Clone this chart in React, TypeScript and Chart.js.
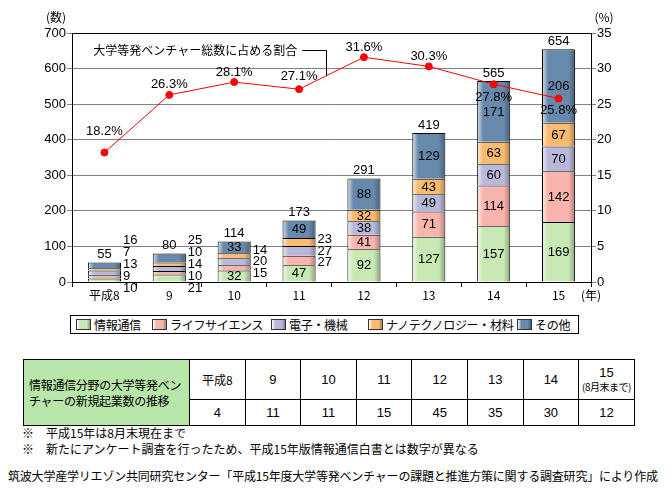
import React, { useEffect, useRef } from 'react';
import { Chart, registerables } from 'chart.js';
Chart.register(...registerables);

// ---- data ----
const years = ['平成8', '9', '10', '11', '12', '13', '14', '15'];
const ict = [10, 21, 32, 47, 92, 127, 157, 169];
const life = [9, 10, 15, 27, 41, 71, 114, 142];
const elec = [13, 14, 20, 27, 38, 49, 60, 70];
const nano = [7, 10, 14, 23, 32, 43, 63, 67];
const other = [16, 25, 33, 49, 88, 129, 171, 206];
const totals = [55, 80, 114, 173, 291, 419, 565, 654];
const share = [18.2, 26.3, 28.1, 27.1, 31.6, 30.3, 27.8, 25.8];
const seriesNames = ['情報通信', 'ライフサイエンス', '電子・機械', 'ナノテクノロジー・材料', 'その他'];
const tableYears = ['平成8', '9', '10', '11', '12', '13', '14', '15'];
const ictStartups = [4, 11, 11, 15, 45, 35, 30, 12];

// ---- styles ----
const JP = '"Noto Sans CJK JP", "Noto Sans", sans-serif';
const NUM = '"Liberation Sans", Arial, sans-serif';
const colors = ['#c8e8b4', '#f9b5ad', '#b8b8da', '#f9bb70', '#6789ab'];
const pctDy = [-21, -10, -10, -13, -10, -10, 13, 12];
const legendX = [76, 152, 271, 368, 517];

export default function App() {
  const ref = useRef<HTMLCanvasElement>(null);
  useEffect(() => {
    const canvas = ref.current!;
    const barData = [ict, life, elec, nano, other];
    const plugin = {
      id: 'custom',
      beforeDatasetsDraw(chart: any) {
        const { ctx, chartArea: a } = chart;
        ctx.save();
        ctx.strokeStyle = '#000';
        ctx.lineWidth = 1;
        ctx.strokeRect(Math.round(a.left) + 0.5, Math.round(a.top) + 0.5, Math.round(a.right - a.left), Math.round(a.bottom - a.top));
        ctx.restore();
      },
      afterDatasetDraw(chart: any, args: any) {
        const ds = chart.data.datasets[args.index];
        if (ds.type !== 'bar') return;
        const ctx = chart.ctx;
        ctx.save();
        for (const el of args.meta.data) {
          const p = el.getProps(['x', 'y', 'base', 'width'], true);
          const left = p.x - p.width / 2;
          const top = Math.min(p.y, p.base);
          const h = Math.abs(p.base - p.y);
          if (h < 2) continue;
          const g = ctx.createLinearGradient(left, 0, left + p.width, 0);
          g.addColorStop(0, 'rgba(255,255,255,0.75)');
          g.addColorStop(0.18, 'rgba(255,255,255,0)');
          g.addColorStop(0.8, 'rgba(0,0,0,0)');
          g.addColorStop(1, 'rgba(0,0,0,0.3)');
          ctx.fillStyle = g;
          ctx.fillRect(left + 1, top + 1, p.width - 2, h - 1);
        }
        ctx.restore();
      },
      afterDatasetsDraw(chart: any) {
        const ctx = chart.ctx;
        const yScale = chart.scales.y;
        const y0 = yScale.getPixelForValue(0);
        ctx.save();
        ctx.fillStyle = '#000';
        ctx.textBaseline = 'middle';
        ctx.font = `13px ${NUM}`;
        for (let i = 0; i < years.length; i++) {
          const els = [0, 1, 2, 3, 4].map((d) => chart.getDatasetMeta(d).data[i]);
          const props = els.map((e: any) => e.getProps(['x', 'y', 'base', 'width'], true));
          const cx = props[0].x;
          const right = cx + props[0].width / 2;
          const topY = props[4].y;
          // total
          ctx.textAlign = 'center';
          ctx.fillText(String(totals[i]), cx, topY - 8);
          const outside: { d: number; c: number }[] = [];
          for (let d = 0; d < 5; d++) {
            const h = Math.abs(props[d].base - props[d].y);
            const c = (props[d].base + props[d].y) / 2;
            if (h >= 10.5) {
              ctx.textAlign = 'center';
              ctx.fillText(String(barData[d][i]), cx, c + 0.5);
            } else {
              outside.push({ d, c });
            }
          }
          ctx.textAlign = 'left';
          if (outside.length === 5) {
            outside.forEach((o, k) => {
              ctx.fillText(String(barData[o.d][i]), right + 2, y0 + 6 - 12 * k);
            });
          } else if (outside.length) {
            const mean = outside.reduce((s, o) => s + o.c, 0) / outside.length;
            const n = outside.length;
            outside.forEach((o, k) => {
              const yy = mean + (( n - 1) / 2 - k) * 11.5;
              ctx.fillText(String(barData[o.d][i]), right + 2, yy);
            });
          }
        }
        // percentage labels
        const lm = chart.getDatasetMeta(5);
        ctx.textAlign = 'center';
        lm.data.forEach((el: any, i: number) => {
          ctx.fillText(share[i].toFixed(1) + '%', el.x, el.y + pctDy[i]);
        });
        // series label with leader line
        const p3 = lm.data[3], p4 = lm.data[4];
        const lx = p3.x + 0.42 * (p4.x - p3.x);
        const ly = p3.y + 0.42 * (p4.y - p3.y);
        const ty = 50;
        ctx.font = `12px ${JP}`;
        ctx.textAlign = 'right';
        ctx.fillText('大学等発ベンチャー総数に占める割合', lx - 29, ty);
        ctx.strokeStyle = '#000';
        ctx.lineWidth = 1;
        ctx.beginPath();
        ctx.moveTo(lx - 24, ty + 0.5);
        ctx.lineTo(Math.round(lx) + 0.5, ty + 0.5);
        ctx.lineTo(Math.round(lx) + 0.5, ly);
        ctx.stroke();
        // axis titles
        ctx.textAlign = 'center';
        ctx.fillText('(数)', 56, 17);
        ctx.fillText('(%)', 604, 17);
        ctx.fillText('(年)', 591, 295);
        ctx.restore();
      },
    };

    const chart = new Chart(canvas, {
      type: 'bar',
      data: {
        labels: years,
        datasets: [
          ...[ict, life, elec, nano, other].map((d, k) => ({
            type: 'bar' as const,
            label: seriesNames[k],
            data: d,
            backgroundColor: colors[k],
            borderColor: '#000',
            borderWidth: 1,
            borderSkipped: 'bottom' as const,
            barPercentage: 0.51,
            categoryPercentage: 1,
            yAxisID: 'y',
            order: 1,
          })),
          {
            type: 'line' as const,
            label: '大学等発ベンチャー総数に占める割合',
            data: share,
            yAxisID: 'y1',
            borderColor: '#ff0000',
            borderWidth: 1,
            pointRadius: 3.5,
            pointBackgroundColor: '#ff0000',
            pointBorderColor: '#ff0000',
            tension: 0,
            order: 0,
          } as any,
        ],
      },
      options: {
        responsive: false,
        animation: false,
        devicePixelRatio: 1,
        layout: { padding: { top: 33, left: 0, right: 0, bottom: 0 } },
        plugins: { legend: { display: false }, tooltip: { enabled: false } },
        scales: {
          x: {
            stacked: true,
            grid: { offset: true, drawOnChartArea: false, tickLength: 5, color: '#000' },
            border: { display: false },
            ticks: { color: '#000', font: { family: JP, size: 12 }, padding: 1, maxRotation: 0, autoSkip: false },
            afterFit: (s: any) => { s.height = 28; },
          },
          y: {
            stacked: true,
            min: 0,
            max: 700,
            grid: { color: '#808080', tickLength: 5 },
            border: { display: false },
            ticks: { stepSize: 100, color: '#000', font: { family: NUM, size: 13 }, padding: 1 },
            afterFit: (s: any) => { s.width = 72; },
          },
          y1: {
            position: 'right',
            min: 0,
            max: 35,
            grid: { drawOnChartArea: false, color: '#808080', tickLength: 5 },
            border: { display: false },
            ticks: { stepSize: 5, color: '#000', font: { family: NUM, size: 13 }, padding: 1 },
            afterFit: (s: any) => { s.width = 81; },
          },
        },
      } as any,
      plugins: [plugin],
    });
    return () => chart.destroy();
  }, []);

  const cellStyle: React.CSSProperties = {
    border: '1px solid #000',
    textAlign: 'center',
    padding: 0,
    fontFamily: NUM,
    fontSize: 13,
  };

  return (
    <div style={{ position: 'absolute', left: 0, top: 0, width: 672, height: 495, background: '#fff', fontFamily: JP, color: '#000' }}>
      <canvas ref={ref} width={672} height={310} style={{ position: 'absolute', left: 0, top: 0, width: 672, height: 310 }} />
      {/* legend */}
      <div style={{ position: 'absolute', left: 70, top: 315, width: 509, height: 19, border: '1px solid #000', boxSizing: 'border-box' }} />
      {seriesNames.map((n, k) => (
        <div key={n} style={{ position: 'absolute', left: legendX[k], top: 316, height: 17, display: 'flex', alignItems: 'center', fontSize: 12, whiteSpace: 'nowrap', letterSpacing: -0.3 }}>
          <span style={{ display: 'inline-block', width: 15, height: 11, border: '1px solid #333', boxSizing: 'border-box', background: `linear-gradient(90deg, #fff 0%, ${colors[k]} 25%, ${colors[k]} 75%, rgba(0,0,0,0.3) 100%), ${colors[k]}`, backgroundColor: colors[k], marginRight: 3 }} />
          <span>{n}</span>
        </div>
      ))}
      {/* table */}
      <table style={{ position: 'absolute', left: 23, top: 359, width: 611, borderCollapse: 'collapse', tableLayout: 'fixed' }}>
        <colgroup>
          <col style={{ width: 166 }} />
          {tableYears.map((y) => <col key={y} style={{ width: 55.6 }} />)}
        </colgroup>
        <tbody>
          <tr style={{ height: 40 }}>
            <td rowSpan={2} style={{ ...cellStyle, background: '#b8e6a8', textAlign: 'left', fontFamily: JP, fontSize: 12, lineHeight: '16px', paddingLeft: 5, letterSpacing: -0.3 }}>
              情報通信分野の大学等発ベン<br />チャーの新規起業数の推移
            </td>
            {tableYears.map((y, i) => (
              <td key={y} style={{ ...cellStyle, fontFamily: i === 0 ? JP : NUM, fontSize: i === 0 ? 12 : 13, lineHeight: '14px' }}>
                {i === tableYears.length - 1 ? (
                  <>
                    <div>{y}</div>
                    <div style={{ fontFamily: JP, fontSize: 10, letterSpacing: -0.5, whiteSpace: 'nowrap' }}>(8月末まで)</div>
                  </>
                ) : y}
              </td>
            ))}
          </tr>
          <tr style={{ height: 26 }}>
            {ictStartups.map((v, i) => (
              <td key={i} style={cellStyle}>{v}</td>
            ))}
          </tr>
        </tbody>
      </table>
      {/* notes */}
      <div style={{ position: 'absolute', left: 22, top: 425, fontSize: 12, lineHeight: '16px', whiteSpace: 'nowrap' }}>
        <div>※　平成15年は8月末現在まで</div>
        <div>※　新たにアンケート調査を行ったため、平成15年版情報通信白書とは数字が異なる</div>
      </div>
      <div style={{ position: 'absolute', left: 8, top: 468, fontSize: 12, lineHeight: '16px', whiteSpace: 'nowrap', letterSpacing: -0.2 }}>
        筑波大学産学リエゾン共同研究センター「平成15年度大学等発ベンチャーの課題と推進方策に関する調査研究」により作成
      </div>
    </div>
  );
}
